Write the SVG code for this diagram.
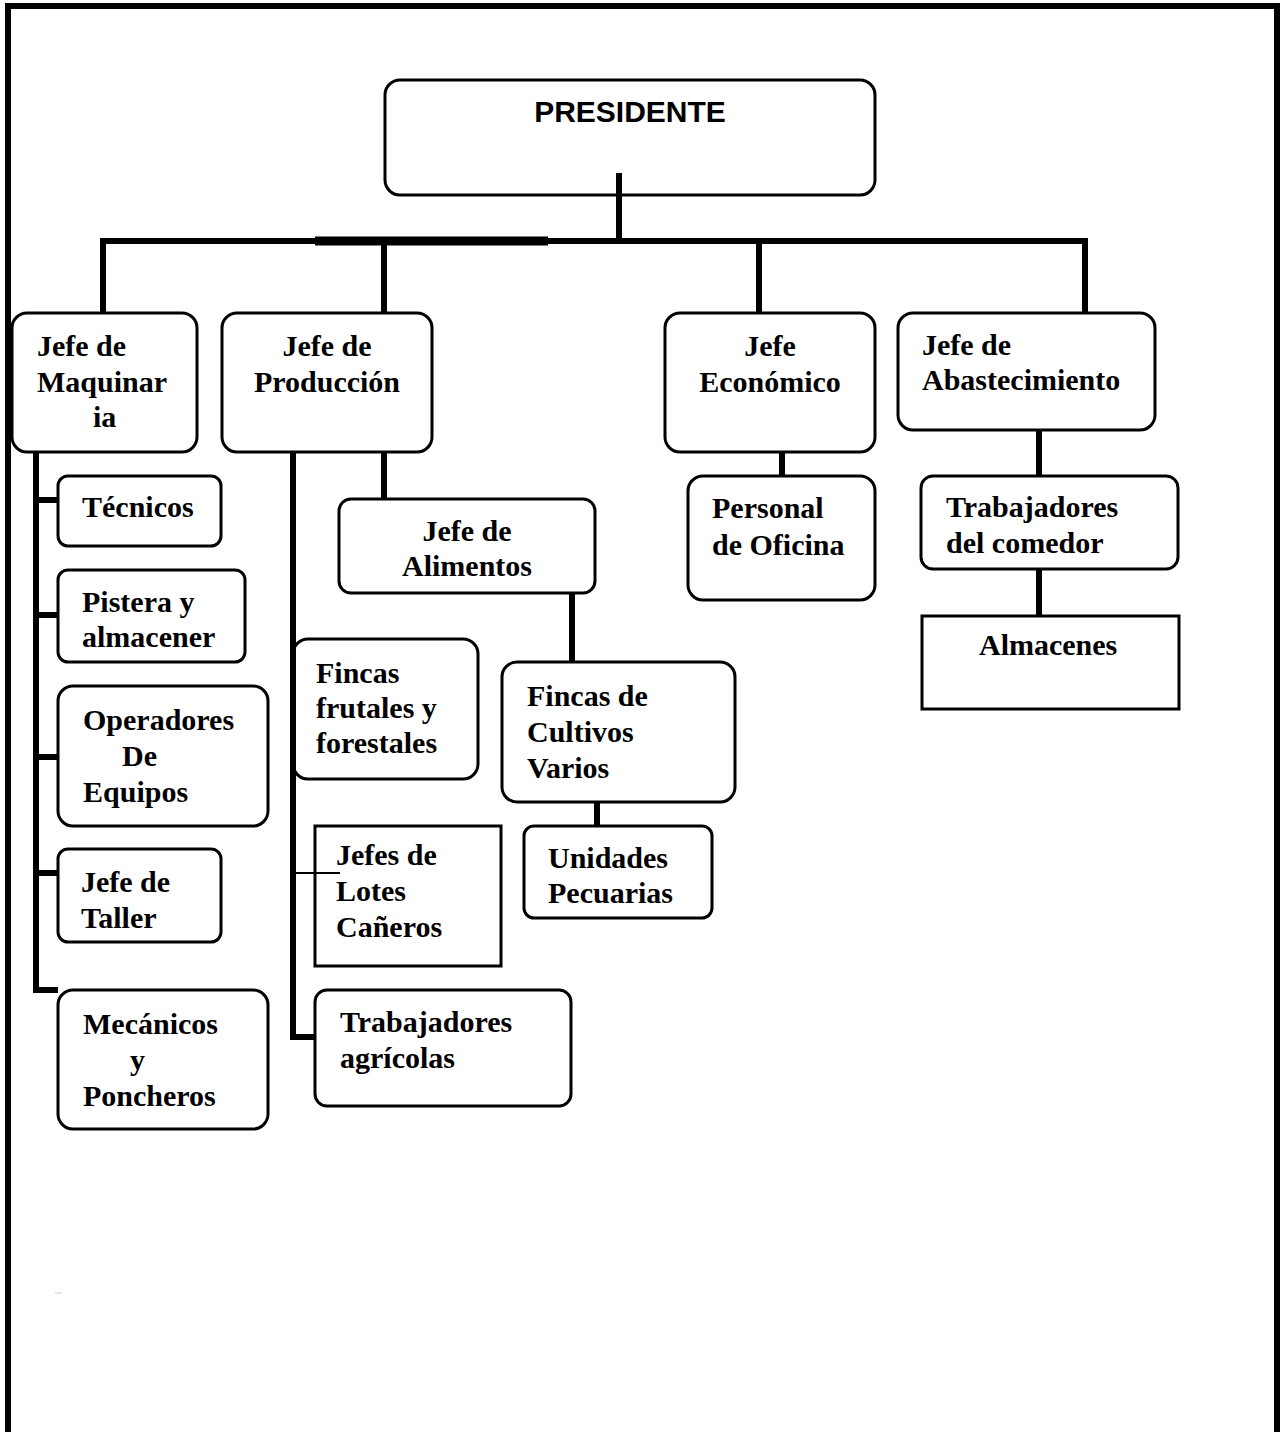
<svg xmlns="http://www.w3.org/2000/svg" width="1285" height="1432" viewBox="0 0 1285 1432">
<style>
.box{fill:#fff;stroke:#000;stroke-width:3}
.t{font-family:"Liberation Serif","Times New Roman",serif;font-weight:bold;font-size:30px;fill:#000}
.c{text-anchor:middle}
.ln{stroke:#000;stroke-width:6;fill:none}
.thin{stroke:#000;stroke-width:2;fill:none}
</style>
<rect x="0" y="0" width="1285" height="1432" fill="#fff"/>
<path d="M8,1440 V6 H1277 V1440" fill="none" stroke="#000" stroke-width="6"/>
<line x1="55" y1="1293" x2="62" y2="1293" stroke="#ccc" stroke-width="1"/>

<g id="presidente">
<rect class="box" x="385" y="80" width="490" height="115" rx="15"/>
<text x="630" y="122" text-anchor="middle" font-family="'Liberation Sans',Arial,sans-serif" font-weight="bold" font-size="30">PRESIDENTE</text>
</g>

<g id="jefe-maquinaria">
<rect class="box" x="12" y="313" width="185" height="139" rx="15"/>
<text class="t" x="37" y="356">Jefe de</text>
<text class="t" x="37" y="392">Maquinar</text>
<text class="t" x="93" y="427">ia</text>
</g>

<g id="jefe-produccion">
<rect class="box" x="222" y="313" width="210" height="139" rx="15"/>
<text class="t c" x="327" y="356">Jefe de</text>
<text class="t c" x="327" y="392">Producción</text>
</g>

<g id="jefe-economico">
<rect class="box" x="665" y="313" width="210" height="139" rx="15"/>
<text class="t c" x="770" y="356">Jefe</text>
<text class="t c" x="770" y="392">Económico</text>
</g>

<g id="jefe-abastecimiento">
<rect class="box" x="898" y="313" width="257" height="117" rx="15"/>
<text class="t" x="922" y="355">Jefe de</text>
<text class="t" x="922" y="390">Abastecimiento</text>
</g>

<g id="tecnicos">
<rect class="box" x="58" y="476" width="163" height="70" rx="10"/>
<text class="t" x="82" y="517">Técnicos</text>
</g>

<g id="pistera">
<rect class="box" x="58" y="570" width="187" height="92" rx="10"/>
<text class="t" x="82" y="612">Pistera y</text>
<text class="t" x="82" y="647">almacener</text>
</g>

<g id="operadores">
<rect class="box" x="58" y="686" width="210" height="140" rx="15"/>
<text class="t" x="83" y="730">Operadores</text>
<text class="t" x="122" y="766">De</text>
<text class="t" x="83" y="802">Equipos</text>
</g>

<g id="jefe-taller">
<rect class="box" x="58" y="849" width="163" height="93" rx="10"/>
<text class="t" x="81" y="892">Jefe de</text>
<text class="t" x="81" y="928">Taller</text>
</g>

<g id="mecanicos">
<rect class="box" x="58" y="990" width="210" height="139" rx="15"/>
<text class="t" x="83" y="1034">Mecánicos</text>
<text class="t" x="130" y="1070">y</text>
<text class="t" x="83" y="1106">Poncheros</text>
</g>

<g id="jefe-alimentos">
<rect class="box" x="339" y="499" width="256" height="94" rx="12"/>
<text class="t c" x="467" y="541">Jefe de</text>
<text class="t c" x="467" y="576">Alimentos</text>
</g>

<g id="fincas-frutales">
<rect class="box" x="293" y="639" width="185" height="140" rx="15"/>
<text class="t" x="316" y="683">Fincas</text>
<text class="t" x="316" y="718">frutales y</text>
<text class="t" x="316" y="753">forestales</text>
</g>

<g id="fincas-cultivos">
<rect class="box" x="502" y="662" width="233" height="140" rx="15"/>
<text class="t" x="527" y="706">Fincas de</text>
<text class="t" x="527" y="742">Cultivos</text>
<text class="t" x="527" y="778">Varios</text>
</g>

<g id="unidades-pecuarias">
<rect class="box" x="524" y="826" width="188" height="92" rx="10"/>
<text class="t" x="548" y="868">Unidades</text>
<text class="t" x="548" y="903">Pecuarias</text>
</g>

<g id="jefes-lotes">
<rect class="box" x="315" y="826" width="186" height="140"/>
<text class="t" x="336" y="865">Jefes de</text>
<text class="t" x="336" y="901">Lotes</text>
<text class="t" x="336" y="937">Cañeros</text>
</g>

<g id="trabajadores-agricolas">
<rect class="box" x="315" y="990" width="256" height="116" rx="12"/>
<text class="t" x="340" y="1032">Trabajadores</text>
<text class="t" x="340" y="1068">agrícolas</text>
</g>

<g id="personal-oficina">
<rect class="box" x="688" y="476" width="187" height="124" rx="15"/>
<text class="t" x="712" y="518">Personal</text>
<text class="t" x="712" y="555">de Oficina</text>
</g>

<g id="trabajadores-comedor">
<rect class="box" x="921" y="476" width="257" height="93" rx="12"/>
<text class="t" x="946" y="517">Trabajadores</text>
<text class="t" x="946" y="553">del comedor</text>
</g>

<g id="almacenes">
<rect class="box" x="922" y="616" width="257" height="93"/>
<text class="t" x="979" y="655">Almacenes</text>
</g>

<g id="connectors">
<line class="ln" x1="619" y1="173" x2="619" y2="241"/>
<line class="ln" x1="100" y1="241" x2="1088" y2="241"/>
<line x1="315" y1="241" x2="548" y2="241" stroke="#000" stroke-width="9"/>
<line class="ln" x1="103" y1="241" x2="103" y2="313"/>
<line class="ln" x1="384" y1="241" x2="384" y2="313"/>
<line class="ln" x1="759" y1="241" x2="759" y2="313"/>
<line class="ln" x1="1085" y1="241" x2="1085" y2="313"/>
<path class="ln" d="M36,453 V990 H58"/>
<line class="ln" x1="36" y1="500" x2="58" y2="500"/>
<line class="ln" x1="36" y1="615" x2="58" y2="615"/>
<line class="ln" x1="36" y1="757" x2="58" y2="757"/>
<line class="ln" x1="36" y1="873" x2="58" y2="873"/>
<path class="ln" d="M293,453 V1037 H315"/>
<line class="thin" x1="293" y1="873" x2="340" y2="873"/>
<line class="ln" x1="384" y1="453" x2="384" y2="498"/>
<line class="ln" x1="572" y1="594" x2="572" y2="661"/>
<line class="ln" x1="597" y1="803" x2="597" y2="825"/>
<line class="ln" x1="782" y1="453" x2="782" y2="475"/>
<line class="ln" x1="1039" y1="431" x2="1039" y2="475"/>
<line class="ln" x1="1039" y1="570" x2="1039" y2="615"/>
</g>
</svg>
